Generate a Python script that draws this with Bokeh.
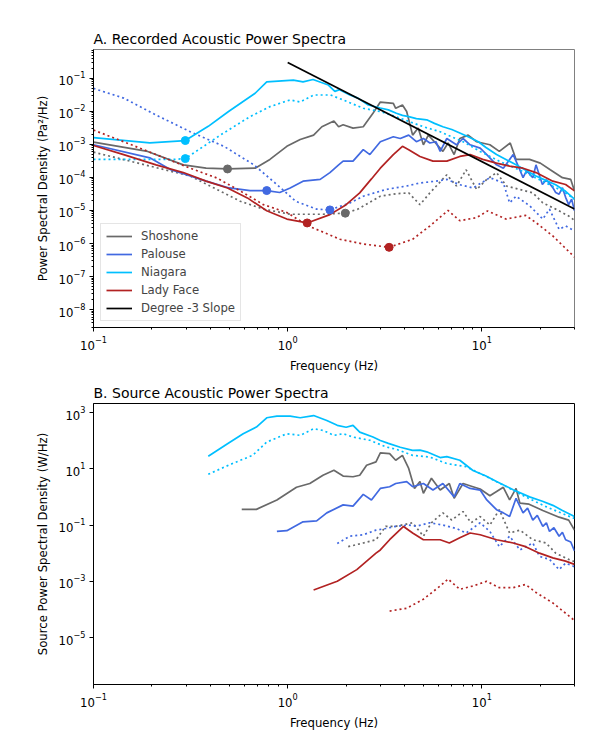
from bokeh.plotting import figure
from bokeh.layouts import column
from bokeh.models import FixedTicker, Legend, LegendItem, Range1d, Title
from bokeh.embed import file_html
from bokeh.resources import INLINE

FONT = "DejaVu Sans"

stations = ["Shoshone", "Palouse", "Niagara", "Lady Face"]
colors = {"Shoshone": "#696969", "Palouse": "#4169e1",
          "Niagara": "#00bfff", "Lady Face": "#b22222"}

# ---- A. recorded PSD (Pa^2/Hz), solid = high flow, dotted = low flow ----
shoshone_rec_f = [0.1, 0.19, 0.29, 0.38, 0.49, 0.68, 0.81, 0.99, 1.16, 1.36, 1.5, 1.73, 1.83, 1.93, 2.17,
                  2.45, 2.75, 3.0, 3.5, 3.6, 3.9, 4.1, 4.4, 4.7, 5.0, 5.3, 5.7, 6.3, 6.7, 7.2, 7.7, 8.5,
                  9.4, 11, 12.3, 14, 15, 17.6, 20, 22.5, 26, 28.7, 30]
shoshone_rec_v = [1.17e-3, 6.1e-4, 2.4e-4, 1.9e-4, 1.8e-4, 1.9e-4, 3.5e-4, 8.7e-4, 1.4e-3, 1.9e-3, 3.4e-3,
                  5.1e-3, 3.4e-3, 3.9e-3, 3.1e-3, 3.4e-3, 8.7e-3, 1.9e-2, 1.74e-2, 1.23e-2, 1.55e-2,
                  9.8e-3, 1.9e-3, 3.1e-3, 9.7e-4, 1.9e-3, 1.2e-3, 6.1e-4, 1.1e-3, 4.9e-4, 1.5e-3, 1.9e-3,
                  1.2e-3, 9.7e-4, 6.1e-4, 1.1e-3, 3.5e-4, 3.5e-4, 2.7e-4, 1.7e-4, 9.8e-5, 8.7e-5, 3.9e-5]
shoshone_rec_low_f = [0.1, 0.315, 0.57, 0.75, 1.03, 1.52, 1.98, 2.3, 3.0, 3.6, 4.2, 4.8, 5.4, 6.6, 7.4,
                      8.3, 9.4, 10.6, 11.9, 13.4, 15.7, 18.3, 20.6, 24, 28, 30]
shoshone_rec_low_v = [5.8e-4, 1.1e-4, 1.9e-5, 1.1e-5, 7.7e-6, 7.7e-6, 8.3e-6, 1.1e-5, 2.7e-5, 3.2e-5,
                      3.4e-5, 1.5e-5, 3.4e-5, 1.2e-4, 5.5e-5, 1.7e-4, 4.3e-5, 8.7e-5, 1.4e-4, 5.5e-5,
                      4.3e-5, 3.4e-5, 1.7e-5, 1.1e-5, 6.8e-6, 5.0e-6]

palouse_rec_f = [0.1, 0.195, 0.25, 0.315, 0.38, 0.5, 0.64, 0.78, 0.91, 1.03, 1.2, 1.47, 1.65, 1.83, 1.93,
                 2.17, 2.45, 2.65, 3.0, 3.5, 3.8, 4.2, 4.6, 5.0, 5.4, 5.8, 6.1, 6.6, 7.4, 8.0, 8.7, 9.8,
                 10.6, 11.9, 12.9, 14.5, 15.5, 16.3, 17, 18.3, 19, 20.5, 21.5, 23.2, 24, 25, 26, 27, 28,
                 29, 30]
palouse_rec_v = [9.7e-4, 3.9e-4, 1.7e-4, 1.1e-4, 7.7e-5, 4.8e-5, 4.0e-5, 4.0e-5, 3.5e-5, 4.8e-5, 7.7e-5,
                 8.7e-5, 1.4e-4, 2.4e-4, 3.1e-4, 3.1e-4, 6.9e-4, 4.9e-4, 1.2e-3, 1.7e-3, 1.5e-3, 1.9e-3,
                 1.2e-3, 1.5e-3, 1.1e-3, 1.2e-3, 6.1e-4, 1.5e-3, 9.7e-4, 1.5e-3, 9.7e-4, 7.7e-4, 4.9e-4,
                 2.4e-4, 1.9e-4, 4.9e-4, 2.0e-4, 9.8e-5, 1.6e-4, 9.8e-5, 2.4e-4, 6.1e-5, 8.5e-5, 4.9e-5,
                 3.5e-5, 3.1e-5, 4.9e-5, 2.5e-5, 1.5e-5, 2.2e-5, 9.7e-6]
palouse_rec_low_f = [0.1, 0.143, 0.21, 0.315, 0.47, 0.67, 0.88, 1.1, 1.41, 1.65, 2.1, 2.45, 3.2, 4.1, 4.8,
                     5.8, 6.6, 7.7, 9.0, 11, 12.9, 13.9, 15, 17.6, 20.6, 22.3, 25, 27, 30]
palouse_rec_low_v = [4.9e-2, 2.5e-2, 7.7e-3, 2.4e-3, 8.7e-4, 2.4e-4, 6.1e-5, 1.9e-5, 1.1e-5, 1.04e-5,
                     1.7e-5, 2.7e-5, 4.3e-5, 5.5e-5, 6.8e-5, 7.7e-5, 8.7e-5, 6.0e-5, 4.8e-5, 9.8e-5,
                     6.8e-5, 1.7e-5, 2.7e-5, 1.4e-5, 5.5e-6, 1.1e-5, 2.7e-6, 3.4e-6, 2.4e-6]

niagara_rec_f = [0.1, 0.195, 0.297, 0.39, 0.496, 0.68, 0.78, 1.07, 1.2, 1.35, 1.62, 1.75, 1.85, 2.09, 2.3,
                 2.6, 3.0, 3.3, 3.63, 3.9, 4.2, 4.6, 5.2, 5.7, 6.3, 7.0, 7.7, 8.5, 9.6, 10.5, 11.9, 13.3,
                 15, 17, 19, 21.5, 24, 27, 30]
niagara_rec_v = [1.6e-3, 1.1e-3, 1.3e-3, 3.5e-3, 9.8e-3, 3.5e-2, 7.7e-2, 8.7e-2, 7.7e-2, 9.1e-2, 6.2e-2,
                 4.0e-2, 4.5e-2, 3.1e-2, 2.5e-2, 1.55e-2, 1.25e-2, 1.1e-2, 8.7e-3, 7.5e-3, 6.9e-3, 6.0e-3,
                 5.5e-3, 4.3e-3, 3.4e-3, 2.8e-3, 2.2e-3, 1.7e-3, 1.2e-3, 8.0e-4, 4.9e-4, 3.5e-4, 2.4e-4,
                 1.6e-4, 1.1e-4, 8.0e-5, 6.0e-5, 3.8e-5, 2.2e-5]
niagara_rec_low_f = [0.1, 0.26, 0.297, 0.45, 0.64, 0.81, 1.03, 1.16, 1.36, 1.66, 1.93, 2.45, 3.0, 3.6,
                     5.0, 6.1, 8.0, 9.8, 12.3, 16.3, 20.5, 26, 30]
niagara_rec_low_v = [3.5e-4, 3.5e-4, 3.7e-4, 1.9e-3, 6.9e-3, 1.38e-2, 2.2e-2, 1.9e-2, 3.1e-2, 3.1e-2,
                     2.2e-2, 1.23e-2, 9.8e-3, 6.9e-3, 3.4e-3, 2.4e-3, 1.2e-3, 6.1e-4, 3.1e-4, 1.5e-4,
                     7.7e-5, 3.9e-5, 2.2e-5]

ladyface_rec_f = [0.1, 0.143, 0.21, 0.29, 0.38, 0.49, 0.62, 0.78, 0.99, 1.26, 1.65, 2.0, 2.35, 2.7, 3.0,
                  3.5, 3.9, 4.2, 4.8, 5.6, 6.6, 7.7, 8.7, 10.1, 11.9, 13.9, 16.3, 19, 23.2, 27, 30]
ladyface_rec_v = [9.2e-4, 4.9e-4, 2.4e-4, 1.4e-4, 7.7e-5, 4.8e-5, 2.4e-5, 9.8e-6, 5.5e-6, 4.2e-6, 7.5e-6,
                  1.5e-5, 3.4e-5, 9.0e-5, 1.9e-4, 4.9e-4, 8.7e-4, 6.9e-4, 4.3e-4, 3.1e-4, 3.1e-4, 4.3e-4,
                  4.9e-4, 3.5e-4, 2.7e-4, 2.2e-4, 1.9e-4, 1.4e-4, 7.7e-5, 6.1e-5, 3.9e-5]
ladyface_rec_low_f = [0.1, 0.143, 0.21, 0.315, 0.43, 0.57, 0.75, 0.99, 1.28, 1.86, 2.45, 3.33, 4.4, 5.4,
                      6.7, 7.7, 9.4, 10.7, 13.3, 16.8, 19, 23.2, 30]
ladyface_rec_low_v = [2.7e-3, 1.2e-3, 4.9e-4, 1.9e-4, 9.7e-5, 3.9e-5, 1.5e-5, 8.7e-6, 3.4e-6, 1.35e-6,
                      9.7e-7, 7.7e-7, 1.35e-6, 3.4e-6, 1.0e-5, 4.9e-6, 6.1e-6, 9.7e-6, 5.5e-6, 7.1e-6,
                      4.3e-6, 1.7e-6, 3.9e-7]

# onset frequencies (Hz) marked on the recorded spectra: (high flow, low flow)
onset_hz = {"Shoshone": (0.49, 1.98), "Palouse": (0.78, 1.65),
            "Niagara": (0.297, 0.297), "Lady Face": (1.26, 3.33)}

# reference power law, f^-3
slope_f = [1.0, 30.0]
slope_v = [0.3, 1.11e-5]

# ---- B. source PSD (W/Hz) ----
shoshone_src_f = [0.58, 0.69, 0.88, 1.11, 1.3, 1.52, 1.73, 1.93, 2.17, 2.35, 2.55, 2.85, 3.0, 3.35, 3.6,
                  3.9, 4.2, 4.5, 4.8, 5.0, 5.5, 6.1, 6.8, 7.2, 8.0, 9.0, 9.8, 11, 12.9, 13.9, 15, 15.7,
                  17.5, 20.6, 25, 28, 30]
shoshone_src_v = [0.36, 0.36, 0.78, 2.2, 3.0, 5.9, 8.9, 5.5, 5.2, 5.9, 13.4, 17.5, 36.5, 34.6, 20, 30,
                  10.3, 2.0, 3.5, 1.35, 4.6, 1.75, 3.0, 0.89, 3.0, 2.3, 1.9, 1.1, 2.2, 0.78, 2.0, 0.6,
                  0.55, 0.33, 0.19, 0.15, 0.066]
shoshone_src_low_f = [2.05, 2.45, 2.85, 3.2, 3.6, 4.4, 5.0, 5.5, 6.3, 7.0, 8.0, 8.8, 9.8, 11, 12.3,
                      13.9, 15.7, 18.3, 21.4, 24, 28, 30]
shoshone_src_low_v = [0.017, 0.023, 0.03, 0.09, 0.09, 0.12, 0.04, 0.12, 0.27, 0.15, 0.3, 0.12, 0.2,
                      0.1, 0.35, 0.052, 0.066, 0.03, 0.023, 0.01, 0.006, 0.005]

palouse_src_f = [0.88, 0.99, 1.2, 1.41, 1.59, 1.93, 2.17, 2.45, 2.7, 3.0, 3.35, 3.6, 4.1, 4.4, 5.0, 5.6,
                 6.3, 7.2, 7.7, 8.7, 9.8, 10.6, 11.9, 12.9, 13.9, 15, 16.3, 17.2, 18.3, 19.3, 20.6, 21.5,
                 22.3, 23.5, 25, 26, 27, 28.7, 30]
palouse_src_v = [0.059, 0.063, 0.13, 0.14, 0.27, 0.52, 0.47, 1.23, 0.78, 2.0, 2.3, 3.0, 3.5, 2.3, 3.0,
                 1.75, 3.0, 1.0, 3.0, 2.0, 1.75, 0.78, 0.35, 0.27, 0.2, 0.89, 0.27, 0.4, 0.15, 0.22,
                 0.089, 0.12, 0.059, 0.08, 0.04, 0.055, 0.03, 0.025, 0.012]
palouse_src_low_f = [1.8, 2.09, 2.45, 2.85, 3.2, 3.6, 4.2, 4.6, 5.4, 6.3, 7.4, 8.3, 9.8, 11, 12.3, 13.9,
                     15.7, 18.3, 19.8, 22.3, 25, 27, 29.5, 30]
palouse_src_low_v = [0.022, 0.04, 0.045, 0.066, 0.075, 0.09, 0.1, 0.09, 0.12, 0.1, 0.075, 0.052, 0.12,
                     0.059, 0.017, 0.04, 0.013, 0.023, 0.0077, 0.006, 0.0026, 0.0044, 0.0035, 0.003]

niagara_src_f = [0.39, 0.49, 0.59, 0.69, 0.78, 0.88, 1.03, 1.16, 1.36, 1.59, 1.8, 2.0, 2.17, 2.35, 2.75,
                 3.0, 3.3, 3.8, 4.4, 4.8, 5.2, 6.1, 6.6, 7.7, 9.0, 10.5, 11.9, 14.5, 17.6, 20.5, 23.2,
                 26, 30]
niagara_src_v = [28, 78, 176, 303, 650, 740, 740, 650, 780, 520, 350, 300, 350, 200, 134, 101, 80, 58,
                 45, 46, 40, 25, 27, 20, 8.7, 5.5, 3.5, 1.8, 1.0, 0.7, 0.5, 0.33, 0.2]
niagara_src_low_f = [0.39, 0.52, 0.66, 0.78, 0.99, 1.16, 1.36, 1.52, 1.73, 1.93, 2.17, 2.65, 3.2, 3.6,
                     4.4, 5.4, 6.6, 8.3, 10.6, 13.4, 16.8, 21.4, 27, 30]
niagara_src_low_v = [6.4, 15.4, 30, 89, 176, 154, 265, 231, 154, 176, 134, 103, 60, 50, 30, 26, 15.4,
                     11.8, 5.2, 2.3, 1.0, 0.45, 0.23, 0.17]

ladyface_src_f = [1.36, 1.8, 2.27, 2.85, 3.0, 3.35, 3.5, 3.95, 4.4, 5.0, 6.1, 6.8, 7.7, 8.7, 9.8, 11.9,
                  14.5, 16.8, 19.8, 23.2, 27, 30]
ladyface_src_v = [4.9e-4, 1.0e-3, 2.6e-3, 0.01, 0.013, 0.03, 0.04, 0.089, 0.052, 0.03, 0.03, 0.023,
                  0.035, 0.052, 0.045, 0.03, 0.023, 0.017, 0.01, 0.0068, 0.0052, 0.004]
ladyface_src_low_f = [3.35, 4.1, 5.0, 6.1, 6.7, 7.7, 9.0, 10.6, 12.3, 14.5, 16.8, 19, 23.2, 28.7, 30]
ladyface_src_low_v = [8.7e-5, 1.1e-4, 2.3e-4, 6.8e-4, 1.2e-3, 5.2e-4, 6.8e-4, 1.0e-3, 5.9e-4, 5.9e-4,
                      7.7e-4, 4.0e-4, 1.7e-4, 5.2e-5, 4.0e-5]

recorded = {
    "Shoshone": ((shoshone_rec_f, shoshone_rec_v), (shoshone_rec_low_f, shoshone_rec_low_v)),
    "Palouse": ((palouse_rec_f, palouse_rec_v), (palouse_rec_low_f, palouse_rec_low_v)),
    "Niagara": ((niagara_rec_f, niagara_rec_v), (niagara_rec_low_f, niagara_rec_low_v)),
    "Lady Face": ((ladyface_rec_f, ladyface_rec_v), (ladyface_rec_low_f, ladyface_rec_low_v)),
}
source = {
    "Shoshone": ((shoshone_src_f, shoshone_src_v), (shoshone_src_low_f, shoshone_src_low_v)),
    "Palouse": ((palouse_src_f, palouse_src_v), (palouse_src_low_f, palouse_src_low_v)),
    "Niagara": ((niagara_src_f, niagara_src_v), (niagara_src_low_f, niagara_src_low_v)),
    "Lady Face": ((ladyface_src_f, ladyface_src_v), (ladyface_src_low_f, ladyface_src_low_v)),
}

x_major = [0.1, 1, 10]
x_minor = [m * 10.0 ** k for k in (-1, 0, 1) for m in range(2, 10) if m * 10.0 ** k <= 30]

LW = 1.7
DOT = "2 3"


def make_fig(height, border_top, border_bottom, y_lo, y_hi, title, ylabel, yticks, yminor):
    p = figure(width=603, height=height, x_axis_type="log", y_axis_type="log",
               x_range=Range1d(0.1, 30), y_range=Range1d(y_lo, y_hi),
               output_backend="svg", toolbar_location=None,
               min_border_left=93, min_border_right=29,
               min_border_top=border_top, min_border_bottom=border_bottom)
    p.title = Title(text=title, align="left", text_font=FONT, text_font_size="14px",
                    text_font_style="normal", text_color="black", standoff=6)
    p.xgrid.visible = False
    p.ygrid.visible = False
    p.background_fill_color = "white"
    p.border_fill_color = "white"
    p.outline_line_color = "#808080"
    p.xaxis.ticker = FixedTicker(ticks=x_major, minor_ticks=x_minor)
    p.yaxis.ticker = FixedTicker(ticks=yticks, minor_ticks=yminor)
    p.xaxis.axis_label = "Frequency (Hz)"
    p.yaxis.axis_label = ylabel
    for ax in (p.xaxis, p.yaxis):
        ax.axis_line_color = "black"
        ax.major_tick_line_color = "black"
        ax.minor_tick_line_color = "black"
        ax.major_tick_in = 0
        ax.major_tick_out = 4
        ax.minor_tick_in = 0
        ax.minor_tick_out = 2
        ax.major_label_text_font = FONT
        ax.major_label_text_font_size = "11.7px"
        ax.major_label_text_color = "black"
        ax.major_label_standoff = 4
        ax.axis_label_text_font = FONT
        ax.axis_label_text_font_size = "11.7px"
        ax.axis_label_text_font_style = "normal"
        ax.axis_label_text_color = "black"
        ax.axis_label_standoff = 6
    return p


# ---------------- panel A ----------------
top_yticks = [10.0 ** k for k in range(-8, 0)]
top_yminor = [m * 10.0 ** k for k in range(-9, 0) for m in range(2, 10)]
pa = make_fig(375, 49, 45, 2.9e-9, 0.736, "A. Recorded Acoustic Power Spectra",
              "Power Spectral Density (Pa²/Hz)", top_yticks, top_yminor)

items = []
for name in stations:
    (hf, hv), (lf, lv) = recorded[name]
    c = colors[name]
    r = pa.line(hf, hv, line_color=c, line_width=LW)
    pa.line(lf, lv, line_color=c, line_width=LW, line_dash=DOT)
    items.append(LegendItem(label=name, renderers=[r]))
r_slope = pa.line(slope_f, slope_v, line_color="black", line_width=LW)
items.append(LegendItem(label="Degree -3 Slope", renderers=[r_slope]))

for name in stations:
    (hf, hv), (lf, lv) = recorded[name]
    f_hi, f_lo = onset_hz[name]
    mx = [f_hi, f_lo]
    my = [hv[hf.index(f_hi)], lv[lf.index(f_lo)]]
    pa.scatter(mx, my, size=8, fill_color=colors[name], line_color=colors[name])

legend = Legend(items=items, location=(7, 6), label_text_font=FONT,
                label_text_font_size="11.7px", glyph_width=26, glyph_height=14,
                label_height=14, spacing=4, padding=5, label_standoff=9, margin=0,
                border_line_color="#cccccc", background_fill_alpha=0.85)
pa.add_layout(legend, "center")

# ---------------- panel B ----------------
bot_yticks = [1e-5, 1e-3, 1e-1, 1e1, 1e3]
pb = make_fig(370, 28, 61, 2.14e-7, 2090, "B. Source Acoustic Power Spectra",
              "Source Power Spectral Density (W/Hz)", bot_yticks, [])
pb.outline_line_color = "black"
for name in stations:
    (hf, hv), (lf, lv) = source[name]
    c = colors[name]
    pb.line(hf, hv, line_color=c, line_width=LW)
    pb.line(lf, lv, line_color=c, line_width=LW, line_dash=DOT)

layout = column(pa, pb, spacing=0)
open("out.html", "w").write(file_html(layout, INLINE))
